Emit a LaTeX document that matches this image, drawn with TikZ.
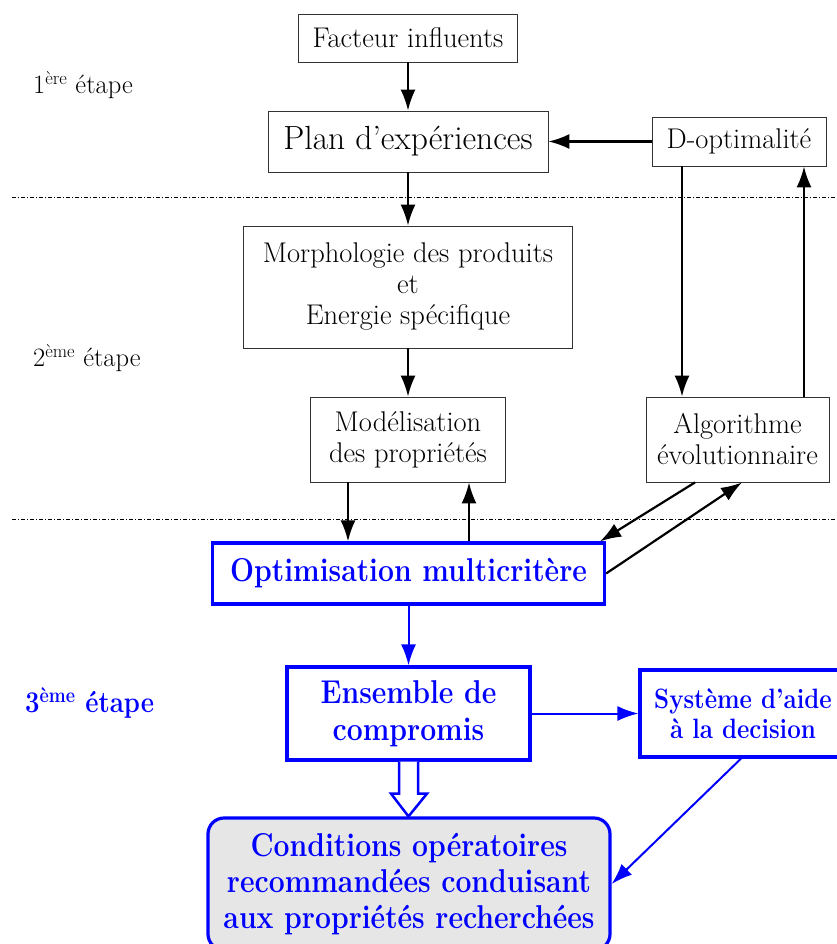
\documentclass[tikz,border=0pt]{standalone}
\usetikzlibrary{arrows.meta,calc}
\definecolor{bblue}{RGB}{0,0,255}
\definecolor{cgray}{RGB}{230,230,230}
\newcommand{\cb}[1]{\scalebox{0.86}[1]{#1}}
\tikzset{
  plainbox/.style={draw=black!80,line width=0.8pt,rectangle,inner sep=0pt,align=center,font=\fontsize{28.5}{31}\selectfont},
  bluebox/.style={draw=bblue,line width=3.2pt,rectangle,inner sep=0pt,align=center,text=bblue,font=\fontsize{33}{37}\selectfont\bfseries},
  arr/.style={line width=2.2pt,-{Latex[length=21pt,width=15pt]}},
  barr/.style={draw=bblue,line width=2pt,-{Latex[length=21pt,width=15pt]}},
  sep/.style={line width=0.6pt,dash pattern=on 4pt off 2pt on 1pt off 2pt},
  stagelbl/.style={anchor=west,inner sep=0pt,font=\fontsize{26.5}{30}\selectfont}
}
\begin{document}
\begin{tikzpicture}[x=1pt,y=-1pt]
\useasboundingbox (0,0) rectangle (836,944);
% separators
\draw[sep] (12,197) -- (836,197);
\draw[sep] (12,519) -- (836,519);
% stage labels
\node[stagelbl] (s1) at (33,85) {1\textsuperscript{ère} étape};
\node[stagelbl] (s2) at (33,358) {2\textsuperscript{ème} étape};
\node[stagelbl,text=bblue,font=\fontsize{30}{34}\selectfont\bfseries] (s3) at (25,703) {\cb{3\textsuperscript{ème} étape}};
% nodes
\node[plainbox,minimum width=219,minimum height=48] (fac) at (408,38) {Facteur influents};
\node[plainbox,minimum width=280,minimum height=61,font=\fontsize{33.5}{36}\selectfont] (plan) at (408,141.5) {Plan d'expériences};
\node[plainbox,minimum width=174,minimum height=49] (dopt) at (739,141.5) {D-optimalité};
\node[plainbox,minimum width=329,minimum height=122] (morph) at (408,287) {Morphologie des produits\\et\\Energie spécifique};
\node[plainbox,minimum width=195,minimum height=85] (model) at (408,439.5) {Modélisation\\des propriétés};
\node[plainbox,minimum width=183,minimum height=85] (algo) at (737.5,439.5) {Algorithme\\évolutionnaire};
\node[bluebox,minimum width=392,minimum height=61] (optim) at (408.5,573.5) {\cb{Optimisation multicritère}};
\node[bluebox,minimum width=243,minimum height=93] (ens) at (408.5,713.5) {\cb{Ensemble de}\\\cb{compromis}};
\node[bluebox,minimum width=206,minimum height=87,font=\fontsize{28}{30}\selectfont\bfseries] (sys) at (743,713.5) {\cb{Système d'aide}\\\cb{à la decision}};
\node[bluebox,fill=cgray,rounded corners=16pt,minimum width=402,minimum height=132,font=\fontsize{33}{36}\selectfont\bfseries] (cond) at (409,884) {\cb{Conditions opératoires}\\\cb{recommandées conduisant}\\\cb{aux propriétés recherchées}};
% black arrows
\draw[arr] (fac.south) -- (plan.north);
\draw[arr] (dopt.west) -- (plan.east);
\draw[arr] (plan.south) -- (morph.north);
\draw[arr] (morph.south) -- (model.north);
\draw[arr] ([xshift=-57pt]dopt.south) -- ([xshift=-57pt]dopt.south |- algo.north);
\draw[arr] ([xshift=66.5pt]algo.north) -- ([xshift=66.5pt]algo.north |- dopt.south);
\draw[arr] ([xshift=-60pt]model.south) -- ([xshift=-60pt]model.south |- optim.north);
\draw[arr] ([xshift=61pt]model.south |- optim.north) -- ([xshift=61pt]model.south);
\draw[arr] ([xshift=-42.5pt]algo.south) -- ([xshift=-6pt]optim.north east);
\draw[arr] (optim.east) -- ([xshift=4.5pt]algo.south);
% blue arrows
\draw[barr] (optim.south) -- (ens.north);
\draw[barr] (ens.east) -- (sys.west);
\draw[barr] ([xshift=-2pt]sys.south) -- (cond.east);
% hollow block arrow
\draw[bblue,line width=2.5pt,fill=white,line join=miter]
  ($(ens.south)+(-9.5,0)$) -- ($(ens.south)+(-9.5,32)$) -- ($(ens.south)+(-17.5,32)$)
  -- (ens.south |- cond.north) -- ($(ens.south)+(18.5,32)$) -- ($(ens.south)+(9.5,32)$)
  -- ($(ens.south)+(9.5,0)$);
\end{tikzpicture}
\end{document}
